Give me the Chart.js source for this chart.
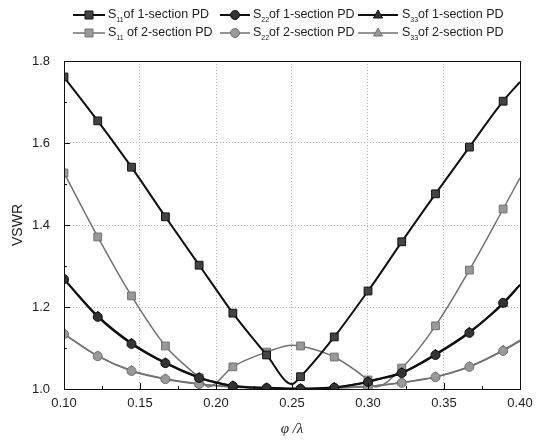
<!DOCTYPE html>
<html>
<head>
<meta charset="utf-8">
<script src="https://cdn.jsdelivr.net/npm/chart.js@4"></script>
<style>
  body { margin: 0; background: #fff; }
  canvas { display: block; }
</style>
</head>
<body>
<canvas id="myChart" width="546" height="440"></canvas>
<script>
// phi/lambda sample positions (markers only on some of them)
const phi = [0.1, 0.1222, 0.1444, 0.1667, 0.1889, 0.195, 0.2111, 0.2333, 0.25,
  0.2556, 0.2778, 0.3, 0.305, 0.3222, 0.3444, 0.3667, 0.3889, 0.4];
const showMarker = [1, 1, 1, 1, 1, 0, 1, 1, 0, 1, 1, 1, 0, 1, 1, 1, 1, 0];

// VSWR values
const s11One = [1.761, 1.654, 1.541, 1.420, 1.302, 1.270, 1.185, 1.083, 1.012,
  1.030, 1.127, 1.239, 1.265, 1.359, 1.476, 1.590, 1.702, 1.749];
const s22One = [1.268, 1.176, 1.110, 1.063, 1.027, 1.020, 1.007, 1.002, 1.000,
  1.000, 1.003, 1.017, 1.022, 1.039, 1.083, 1.137, 1.210, 1.254];
const s33One = [1.268, 1.178, 1.112, 1.064, 1.028, 1.021, 1.008, 1.003, 1.001,
  1.001, 1.004, 1.018, 1.023, 1.040, 1.085, 1.139, 1.208, 1.254];
const s11Two = [1.527, 1.371, 1.227, 1.105, 1.027, 1.005, 1.054, 1.090, 1.107,
  1.105, 1.078, 1.022, 1.005, 1.051, 1.154, 1.290, 1.439, 1.515];
const s22Two = [1.134, 1.080, 1.044, 1.024, 1.012, 1.010, 1.005, 1.002, 1.000,
  1.000, 1.002, 1.006, 1.008, 1.015, 1.029, 1.054, 1.093, 1.117];
const s33Two = [1.134, 1.081, 1.045, 1.025, 1.013, 1.010, 1.005, 1.002, 1.001,
  1.001, 1.003, 1.007, 1.008, 1.016, 1.030, 1.055, 1.095, 1.119];

// axis ticks
const xTicks = [0.10, 0.15, 0.20, 0.25, 0.30, 0.35, 0.40];
const yTicks = [1.0, 1.2, 1.4, 1.6, 1.8];

const black = "#111111";
const gray = "#727272";

function toPoints(ys) {
  return phi.map((x, i) => ({ x: x, y: ys[i] }));
}

function makeSet(label, ys, color, width, style, fill, size) {
  return {
    label: label,
    data: toPoints(ys),
    borderColor: color,
    borderWidth: width,
    pointStyle: style,
    pointBackgroundColor: fill,
    pointBorderColor: color,
    pointBorderWidth: 1,
    pointRadius: (c) => (showMarker[c.dataIndex] ? size : 0),
    cubicInterpolationMode: "monotone",
    fill: false,
  };
}

const datasets = [
  makeSet("S11 of 1-section PD", s11One, black, 2, "rect", "#444", 5.5),
  makeSet("S22 of 1-section PD", s22One, black, 2, "circle", "#333", 4.5),
  makeSet("S33 of 1-section PD", s33One, black, 2, "triangle", "#333", 5),
  makeSet("S11 of 2-section PD", s11Two, gray, 1.5, "rect", "#999", 5.5),
  makeSet("S22 of 2-section PD", s22Two, gray, 1.5, "circle", "#999", 4.5),
  makeSet("S33 of 2-section PD", s33Two, gray, 1.5, "triangle", "#999", 5),
];

// legend entries drawn by hand (line + marker + subscripted text)
const legendItems = [
  { x: 73, len: 32, tx: 108, y: 15, sub: "11", rest: "of 1-section PD", color: black, style: "rect", fill: "#444", w: 2 },
  { x: 220, len: 30, tx: 253, y: 15, sub: "22", rest: "of 1-section PD", color: black, style: "circle", fill: "#333", w: 2 },
  { x: 358, len: 40, tx: 402, y: 15, sub: "33", rest: "of 1-section PD", color: black, style: "triangle", fill: "#333", w: 2 },
  { x: 73, len: 32, tx: 108, y: 33, sub: "11", rest: " of 2-section PD", color: gray, style: "rect", fill: "#999", w: 1.5 },
  { x: 220, len: 30, tx: 253, y: 33, sub: "22", rest: "of 2-section PD", color: gray, style: "circle", fill: "#999", w: 1.5 },
  { x: 358, len: 40, tx: 402, y: 33, sub: "33", rest: "of 2-section PD", color: gray, style: "triangle", fill: "#999", w: 1.5 },
];

function marker(ctx, style, x, y, fill, color) {
  ctx.save();
  ctx.fillStyle = fill;
  ctx.strokeStyle = color;
  ctx.lineWidth = 1;
  ctx.setLineDash([]);
  ctx.beginPath();
  if (style === "rect") {
    ctx.rect(x - 4, y - 4, 8, 8);
  } else if (style === "circle") {
    ctx.arc(x, y, 4.5, 0, Math.PI * 2);
  } else {
    ctx.moveTo(x, y - 5);
    ctx.lineTo(x + 4.5, y + 3);
    ctx.lineTo(x - 4.5, y + 3);
    ctx.closePath();
  }
  ctx.fill();
  ctx.stroke();
  ctx.restore();
}

const legendPlugin = {
  id: "handLegend",
  afterDraw(chart) {
    const ctx = chart.ctx;
    legendItems.forEach((it) => {
      ctx.save();
      ctx.strokeStyle = it.color;
      ctx.lineWidth = it.w;
      ctx.beginPath();
      ctx.moveTo(it.x, it.y);
      ctx.lineTo(it.x + it.len, it.y);
      ctx.stroke();
      marker(ctx, it.style, it.x + it.len / 2, it.y, it.fill, it.color);
      ctx.fillStyle = "#222";
      ctx.textBaseline = "middle";
      let tx = it.tx;
      ctx.font = "12.5px 'Liberation Sans', Arial, sans-serif";
      ctx.fillText("S", tx, it.y);
      tx += ctx.measureText("S").width;
      ctx.font = "7px 'Liberation Sans', Arial, sans-serif";
      ctx.fillText(it.sub, tx, it.y + 5);
      tx += ctx.measureText(it.sub).width;
      ctx.font = "12.5px 'Liberation Sans', Arial, sans-serif";
      ctx.fillText(it.rest, tx, it.y);
      ctx.restore();
    });
  },
};

// plot frame and inward ticks
const framePlugin = {
  id: "frame",
  afterDraw(chart) {
    const ctx = chart.ctx;
    const a = chart.chartArea;
    const xs = chart.scales.x;
    const ys = chart.scales.y;
    ctx.save();
    ctx.strokeStyle = "#111";
    ctx.lineWidth = 1;
    ctx.setLineDash([]);
    ctx.strokeRect(a.left + 0.5, a.top + 0.5, a.right - a.left, a.bottom - a.top);
    ctx.beginPath();
    for (let v = 0.1; v <= 0.4001; v += 0.025) {
      const px = Math.round(xs.getPixelForValue(v)) + 0.5;
      const major = Math.abs(v * 20 - Math.round(v * 20)) < 0.01;
      ctx.moveTo(px, a.bottom);
      ctx.lineTo(px, a.bottom - (major ? 6 : 3));
    }
    for (let v = 1.0; v <= 1.8001; v += 0.1) {
      const py = Math.round(ys.getPixelForValue(v)) + 0.5;
      const major = Math.abs(v * 5 - Math.round(v * 5)) < 0.01;
      ctx.moveTo(a.left, py);
      ctx.lineTo(a.left + (major ? 6 : 3), py);
    }
    ctx.stroke();
    ctx.restore();
  },
};

const ctx = document.getElementById("myChart").getContext("2d");
const myChart = new Chart(ctx, {
  type: "line",
  data: { datasets: datasets },
  options: {
    responsive: false,
    animation: false,
    devicePixelRatio: 1,
    layout: { padding: { top: 61, right: 26, left: 6, bottom: 0 } },
    plugins: { legend: { display: false }, tooltip: { enabled: false } },
    scales: {
      x: {
        type: "linear",
        min: 0.1,
        max: 0.4,
        afterFit: (s) => { s.height = 51; },
        afterBuildTicks: (s) => { s.ticks = xTicks.map((v) => ({ value: v })); },
        ticks: {
          padding: 7,
          color: "#222",
          font: { family: "'Liberation Sans', Arial, sans-serif", size: 13 },
          callback: (v) => Number(v).toFixed(2),
        },
        grid: { color: "#b0b0b0", lineWidth: 1, drawTicks: false },
        border: { display: false, dash: [1, 2] },
        title: {
          display: true,
          text: "φ /λ",
          color: "#222",
          padding: { top: 0, bottom: 2 },
          font: { family: "'Liberation Serif', 'Times New Roman', serif", size: 15, style: "italic" },
        },
      },
      y: {
        type: "linear",
        min: 1.0,
        max: 1.8,
        afterFit: (s) => { s.width = 58; },
        afterBuildTicks: (s) => { s.ticks = yTicks.map((v) => ({ value: v })); },
        ticks: {
          padding: 14,
          color: "#222",
          font: { family: "'Liberation Sans', Arial, sans-serif", size: 13 },
          callback: (v) => Number(v).toFixed(1),
        },
        grid: { color: "#b0b0b0", lineWidth: 1, drawTicks: false },
        border: { display: false, dash: [1, 2] },
        title: {
          display: true,
          text: "VSWR",
          color: "#222",
          padding: { top: 4, bottom: 0 },
          font: { family: "'Liberation Sans', Arial, sans-serif", size: 14 },
        },
      },
    },
  },
  plugins: [legendPlugin, framePlugin],
});
</script>
</body>
</html>
